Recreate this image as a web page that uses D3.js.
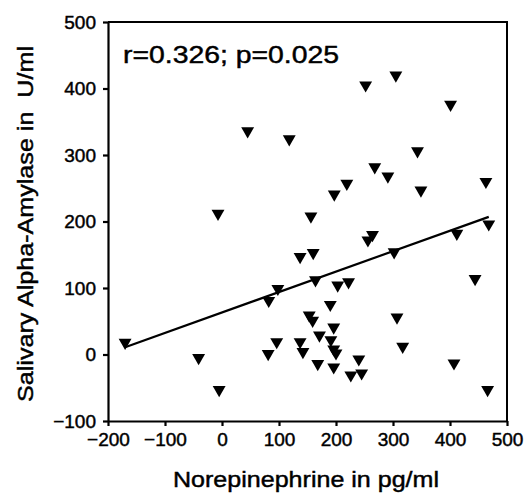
<!DOCTYPE html>
<html>
<head>
<meta charset="utf-8">
<script src="https://cdn.jsdelivr.net/npm/d3@7"></script>
<style>
  body { margin: 0; background: #fff; }
  svg { display: block; font-family: Arial, "Liberation Sans", sans-serif; }
  svg text { fill: #000; stroke: #000; stroke-width: 0.45px; white-space: pre; }
  .axis path, .axis line { stroke: #000; stroke-width: 2.2px; }
  .axis text { font-size: 19px; }
</style>
</head>
<body>
<svg></svg>
<script>
// norepinephrine (pg/ml) for each subject
let norepinephrine = [
  -170, -41, -7, -5, 45, 81, 82, 96, 98, 118,
  137, 137, 142, 153, 159, 156, 160, 164, 168, 171,
  190, 191, 196, 196, 200, 196, 197, 203, 219, 222,
  226, 240, 245, 252, 256, 264, 268, 291, 302, 305,
  307, 317, 343, 349, 401, 407, 412, 444, 463, 468, 466
];

// salivary alpha-amylase (U/ml) for each subject
let amylase = [
  18, -5, 212, -53, 336, 1, 81, 19, 99, 324,
  19, 147, 4, 59, 51, 208, 153, 112, -14, 29,
  75, 22, 41, 8, 2, -19, 241, 104, 257, 109,
  -31, -7, -28, 405, 172, 180, 282, 268, 154, 420,
  56, 12, 306, 247, 376, -13, 182, 114, 260, 196, -53
];

// regression line end points
let fitX = [-170, 468];
let fitY = [11, 207];

let xTicks = [-200, -100, 0, 100, 200, 300, 400, 500];
let yTicks = [-100, 0, 100, 200, 300, 400, 500];

let config = {
  'svg': {},
  'margin': {},
  'plot': {}
};

config.svg.width = 527;
config.svg.height = 495;

config.margin.top = 22;
config.margin.right = 20;
config.margin.bottom = 74;
config.margin.left = 108;

config.plot.x = config.margin.left;
config.plot.y = config.margin.top;
config.plot.width = config.svg.width - config.margin.left - config.margin.right;
config.plot.height = config.svg.height - config.margin.top - config.margin.bottom;

let svg = d3.select('body').select('svg');
svg.attr('width', config.svg.width);
svg.attr('height', config.svg.height);

let plot = svg.append('g');
plot.attr('id', 'plot');
plot.attr('transform', translate(config.plot.x, config.plot.y));

let scale = {};

scale.x = d3.scaleLinear();
scale.x.domain([-200, 500]);
scale.x.range([0, config.plot.width]);

scale.y = d3.scaleLinear();
scale.y.domain([-100, 500]);
scale.y.range([config.plot.height, 0]);

let axis = {};
axis.x = d3.axisBottom(scale.x).tickValues(xTicks).tickSize(5).tickPadding(7).tickSizeOuter(0);
axis.y = d3.axisLeft(scale.y).tickValues(yTicks).tickSize(5).tickPadding(7).tickSizeOuter(0);

// frame top and right
let frame = plot.append('path');
frame.attr('d', 'M0,0H' + config.plot.width + 'V' + config.plot.height);
frame.attr('fill', 'none');
frame.attr('stroke', '#000');
frame.attr('stroke-width', 2);

let gx = svg.append('g');
gx.attr('class', 'axis');
gx.attr('transform', translate(config.plot.x, config.plot.y + config.plot.height));
gx.call(axis.x);

let gy = svg.append('g');
gy.attr('class', 'axis');
gy.attr('transform', translate(config.plot.x, config.plot.y));
gy.call(axis.y);

// regression line
let fit = d3.line()
  .x(d => scale.x(d[0]))
  .y(d => scale.y(d[1]));

plot.append('path')
  .datum(d3.zip(fitX, fitY))
  .attr('d', fit)
  .attr('fill', 'none')
  .attr('stroke', '#000')
  .attr('stroke-width', 2.2);

// downward triangles
let triangle = d3.symbol().type(d3.symbolTriangle).size(72);

plot.selectAll('path.point')
  .data(d3.zip(norepinephrine, amylase))
  .enter()
  .append('path')
  .attr('class', 'point')
  .attr('d', triangle)
  .attr('transform', d => translate(scale.x(d[0]), scale.y(d[1])) + ' rotate(180)')
  .attr('fill', '#000');

svg.append('text')
  .attr('x', 123)
  .attr('y', 63)
  .attr('textLength', 216)
  .attr('lengthAdjust', 'spacingAndGlyphs')
  .style('font-size', '24px')
  .text('r=0.326; p=0.025');

svg.append('text')
  .attr('x', 306)
  .attr('y', 487)
  .attr('text-anchor', 'middle')
  .attr('textLength', 266)
  .attr('lengthAdjust', 'spacingAndGlyphs')
  .style('font-size', '22px')
  .text('Norepinephrine in pg/ml');

svg.append('text')
  .attr('transform', translate(33, 224) + ' rotate(-90)')
  .attr('text-anchor', 'middle')
  .attr('textLength', 356)
  .attr('lengthAdjust', 'spacingAndGlyphs')
  .style('font-size', '22px')
  .text('Salivary Alpha-Amylase in  U/ml');

function translate(x, y) {
  return 'translate(' + x + ',' + y + ')';
}
</script>
</body>
</html>
